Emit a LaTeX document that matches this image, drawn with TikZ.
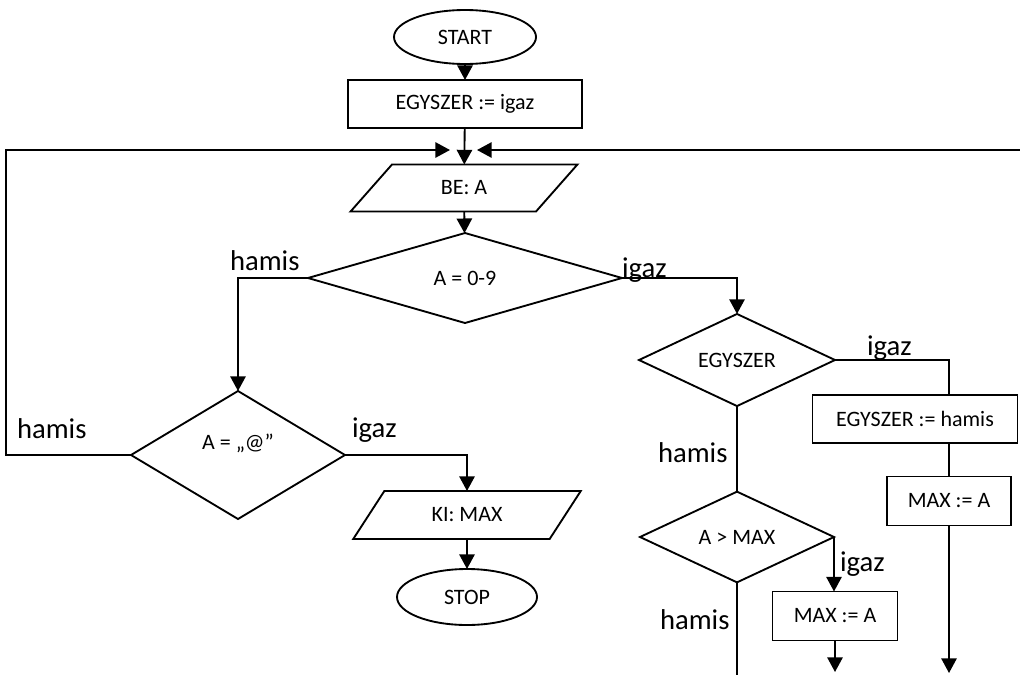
\documentclass[tikz,border=0pt]{standalone}
\usepackage{fontspec}
\setmainfont{Carlito}
\usetikzlibrary{shapes.geometric,arrows.meta}
\begin{document}
\begin{tikzpicture}[x=0.75pt,y=-0.75pt,
 every node/.style={outer sep=0pt},
 shp/.style={draw, line width=1.4pt, font=\fontsize{16.5}{18}\selectfont, inner sep=0pt},
 term/.style={shp, ellipse},
 proc/.style={shp, rectangle},
 io/.style={shp, trapezium, trapezium left angle=47, trapezium right angle=133, trapezium stretches=true},
 dec/.style={shp, diamond},
 flow/.style={line width=1.4pt, -{Triangle[length=11pt,width=11.5pt]}},
 link/.style={line width=1.4pt},
 lbl/.style={font=\fontsize{21.5}{24}\selectfont, inner sep=0pt, anchor=base west}]
\useasboundingbox (0,0) rectangle (1020,675);

% nodes
\node[term, minimum width=106.5pt, minimum height=40.5pt] (start) at (465,37) {START};
\node[proc, minimum width=175.5pt, minimum height=36pt] (init) at (465,104) {EGYSZER := igaz};
\node[io, minimum width=171pt, minimum height=35.25pt] (be) at (464,188) {BE: A};
\node[dec, minimum width=235.5pt, minimum height=67.5pt] (d1) at (465,278) {A = 0-9};
\node[dec, minimum width=160.5pt, minimum height=96pt] (d2) at (238,455) {\raisebox{4pt}[0pt][0pt]{A = „@”}};
\node[io, minimum width=171.75pt, minimum height=36pt] (ki) at (467,515) {KI: MAX};
\node[term, minimum width=105pt, minimum height=42pt] (stop) at (467,597) {STOP};
\node[dec, minimum width=147pt, minimum height=67.5pt] (d3) at (737,360) {EGYSZER};
\node[proc, minimum width=153.75pt, minimum height=36pt] (b1) at (915,419) {EGYSZER := hamis};
\node[proc, minimum width=93pt, minimum height=36.75pt] (b2) at (949,501) {MAX := A};
\node[dec, minimum width=145.5pt, minimum height=67.5pt] (d4) at (737,537) {A > MAX};
\node[proc, minimum width=93.75pt, minimum height=36.75pt] (b3) at (835,616) {MAX := A};

% free ends
\coordinate (jl) at (450,150);
\coordinate (jr) at (477,150);
\coordinate (re) at (1020,150);
\coordinate (e2) at (949,673);
\coordinate (e3) at (835,672);
\coordinate (e4) at (737,675);

% connectors
\draw[flow] (start) -- (init);
\draw[flow] (init) -- (be);
\draw[flow] (be) -- (d1);
\draw[flow] (d1.west) -| (d2.north);
\draw[flow] (d1.east) -| (d3.north);
\draw[flow] (d2.west) -- ++(-125,0) |- (jl);
\draw[flow] (re) -- (jr);
\draw[flow] (d2.east) -| (ki.north);
\draw[flow] (ki) -- (stop);
\draw[link] (d3.east) -| (b2 |- b1.north);
\draw[link] (b1.south -| b2) -- (b2.north);
\draw[flow] (b2.south) -- (e2);
\draw[link] (d3.south) -- (d4.north);
\draw[flow] (d4.east) -- (d4.east |- b3.north);
\draw[flow] (b3.south) -- (e3);
\draw[link] (d4.south) -- (e4);

% labels
\node[lbl] (l1) at (230,270) {hamis};
\node[lbl] (l2) at (622,277) {igaz};
\node[lbl] (l3) at (17,438) {hamis};
\node[lbl] (l4) at (352,437) {igaz};
\node[lbl] (l5) at (867,355) {igaz};
\node[lbl] (l6) at (658,462) {hamis};
\node[lbl] (l7) at (840,571) {igaz};
\node[lbl] (l8) at (660,629) {hamis};
\end{tikzpicture}
\end{document}
